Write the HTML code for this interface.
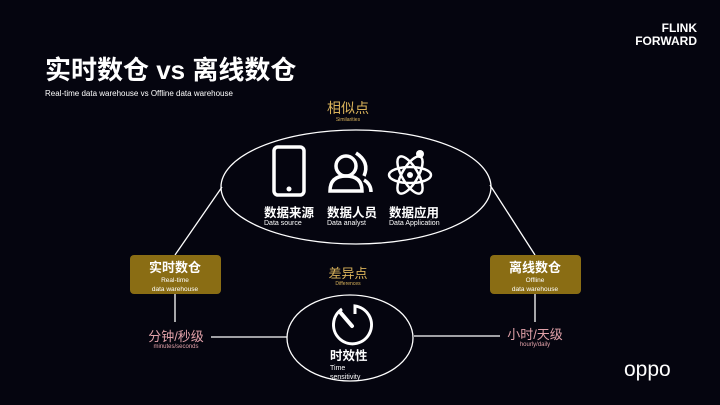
<!DOCTYPE html>
<html><head><meta charset="utf-8"><style>
body{margin:0;width:720px;height:405px;background:#05050f;overflow:hidden;position:relative;font-family:"Liberation Sans","Noto Sans CJK SC",sans-serif;color:#fff}
.a{position:absolute;white-space:nowrap;line-height:1}
.c{transform:translateX(-50%);text-align:center}
</style></head><body>
<svg class="a" style="left:0;top:0" width="720" height="405">
<g fill="none" stroke="#fff" stroke-width="1.3">
<ellipse cx="356" cy="187" rx="135" ry="57"/>
<ellipse cx="350" cy="338" rx="63" ry="43"/>
<line x1="222" y1="187" x2="175" y2="255"/>
<line x1="490" y1="185" x2="535" y2="255"/>
<line x1="175" y1="294" x2="175" y2="322"/>
<line x1="535" y1="294" x2="535" y2="322"/>
<line x1="211" y1="337" x2="287" y2="337"/>
<line x1="414" y1="336" x2="500" y2="336"/>
</g>
<rect x="274" y="147" width="30" height="48" rx="4" fill="none" stroke="#fff" stroke-width="3.5"/>
<rect x="278" y="153" width="22" height="31" fill="#05050f"/>
<circle cx="289" cy="189" r="2.5" fill="#fff"/>
<g fill="none" stroke="#fff" stroke-width="3.5">
<circle cx="346" cy="166" r="10"/>
<path d="M330 191 Q330 176 346 176 Q362 176 362 191 Z"/>
<path d="M356 153 Q370 162 364 176 M364 180 Q371 184 371 192"/>
</g>
<g fill="none" stroke="#fff" stroke-width="2.5">
<ellipse cx="410" cy="175" rx="21" ry="8"/>
<ellipse cx="410" cy="175" rx="21" ry="8" transform="rotate(60 410 175)"/>
<ellipse cx="410" cy="175" rx="21" ry="8" transform="rotate(-60 410 175)"/>
</g>
<circle cx="410" cy="175" r="3" fill="#fff"/>
<circle cx="420" cy="154" r="4" fill="#fff"/>
<rect x="130" y="255" width="91" height="39" rx="4" fill="#8a6d14"/>
<rect x="490" y="255" width="91" height="39" rx="4" fill="#8a6d14"/>
<path d="M342 309 A19 19 0 1 0 355 306 L355 314" fill="none" stroke="#fff" stroke-width="3"/>
<line x1="340" y1="312" x2="352" y2="326" stroke="#fff" stroke-width="4" stroke-linecap="round"/>
</svg>
<div class="a" style="left:45px;top:57px;font-size:26px;font-weight:bold">实时数仓 vs 离线数仓</div>
<div class="a" style="left:45px;top:90px;font-size:8px">Real-time data warehouse vs Offline data warehouse</div>
<div class="a" style="left:622px;top:22px;font-size:12px;font-weight:bold;line-height:13px;text-align:right;width:75px">FLINK<br>FORWARD</div>
<div class="a c" style="left:348px;top:101px;font-size:14px;color:#d9b25a">相似点</div>
<div class="a c" style="left:348px;top:118px;font-size:5px;color:#d9b25a">Similarities</div>
<div class="a" style="left:264px;top:207px;font-size:12.5px;font-weight:bold">数据来源</div>
<div class="a" style="left:264px;top:220px;font-size:7px">Data source</div>
<div class="a" style="left:327px;top:207px;font-size:12.5px;font-weight:bold">数据人员</div>
<div class="a" style="left:327px;top:220px;font-size:7px">Data analyst</div>
<div class="a" style="left:389px;top:207px;font-size:12.5px;font-weight:bold">数据应用</div>
<div class="a" style="left:389px;top:220px;font-size:7px">Data Application</div>
<div class="a c" style="left:175px;top:261px;font-size:13px;font-weight:bold">实时数仓</div>
<div class="a c" style="left:175px;top:276px;font-size:6.5px;line-height:9px">Real-time<br>data warehouse</div>
<div class="a c" style="left:535px;top:261px;font-size:13px;font-weight:bold">离线数仓</div>
<div class="a c" style="left:535px;top:276px;font-size:6.5px;line-height:9px">Offline<br>data warehouse</div>
<div class="a c" style="left:348px;top:267px;font-size:13px;color:#d9b25a">差异点</div>
<div class="a c" style="left:348px;top:282px;font-size:5px;color:#d9b25a">Differences</div>
<div class="a c" style="left:176px;top:330px;font-size:13px;color:#e0a0a8">分钟/秒级</div>
<div class="a c" style="left:176px;top:344px;font-size:6px;color:#e0a0a8">minutes/seconds</div>
<div class="a c" style="left:535px;top:328px;font-size:13px;color:#e0a0a8">小时/天级</div>
<div class="a c" style="left:535px;top:342px;font-size:6px;color:#e0a0a8">hourly/daily</div>
<div class="a" style="left:330px;top:350px;font-size:12.5px;font-weight:bold">时效性</div>
<div class="a" style="left:330px;top:364px;font-size:7px;line-height:9px">Time<br>sensitivity</div>
<div class="a" style="left:624px;top:359px;font-size:21px">oppo</div>
</body></html>
